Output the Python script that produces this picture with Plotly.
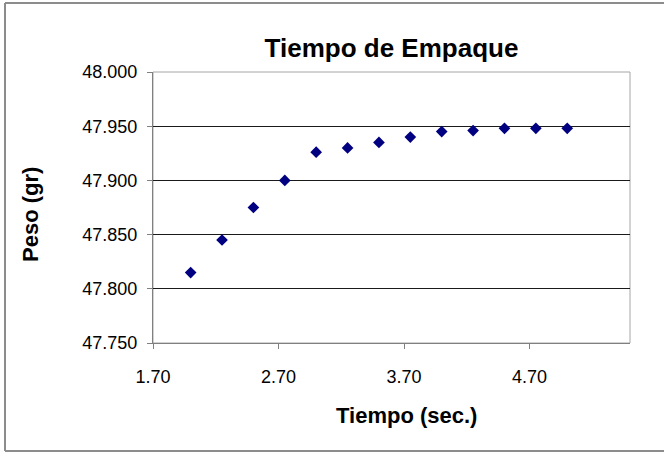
import plotly.graph_objects as go

tiempo = [2.00, 2.25, 2.50, 2.75, 3.00, 3.25, 3.50, 3.75, 4.00, 4.25, 4.50, 4.75, 5.00]
peso = [47.815, 47.845, 47.875, 47.900, 47.926, 47.930, 47.935, 47.940, 47.945, 47.946, 47.948, 47.948, 47.948]

titulo = "Tiempo de Empaque"
titulo_x = "Tiempo (sec.)"
titulo_y = "Peso (gr)"

FONT = "Liberation Sans, Arial, sans-serif"

fig = go.Figure()
fig.add_trace(go.Scatter(
    x=tiempo, y=peso, mode="markers",
    marker=dict(symbol="diamond", size=9, color="#000080"),
    showlegend=False,
))

L, R, T, B = 153, 34, 72, 109
W, H = 664, 452
pw, ph = W - L - R, H - T - B

bx0, bx1 = (5 - L) / pw, (W + 10 - L) / pw
by0, by1 = (343 - 451) / ph, (343 - 3) / ph
borde = dict(color="#8c8c8c", width=2)

fig.update_layout(
    width=W, height=H,
    margin=dict(l=L, r=R, t=T, b=B, pad=0),
    paper_bgcolor="white", plot_bgcolor="white",
    font=dict(family=FONT, size=18, color="black"),
    title=dict(text="<b>" + titulo + "</b>", x=0.5, xref="paper", xanchor="center",
               y=1 - 48 / H, yref="container", yanchor="middle",
               font=dict(size=26, family=FONT, color="black")),
    xaxis=dict(range=[1.7, 5.5], tick0=1.7, dtick=1, tickformat=".2f",
               showgrid=False, zeroline=False, showline=True, linecolor="#808080", linewidth=1,
               ticks="outside", ticklen=5, tickcolor="#808080", ticklabelstandoff=12,
               tickfont=dict(size=18, family=FONT, color="black")),
    yaxis=dict(range=[47.75, 48.0], tick0=47.75, dtick=0.05, tickformat=".3f",
               showgrid=True, gridcolor="#1a1a1a", gridwidth=1, zeroline=False,
               showline=True, linecolor="#808080", linewidth=1,
               ticks="outside", ticklen=5, tickcolor="#808080", ticklabelstandoff=6,
               tickfont=dict(size=18, family=FONT, color="black")),
    annotations=[
        dict(text="<b>" + titulo_x + "</b>", xref="paper", yref="paper",
             x=(406 - L) / pw, y=(343 - 415) / ph, xanchor="center", yanchor="middle",
             showarrow=False, font=dict(size=22, family=FONT, color="black")),
        dict(text="<b>" + titulo_y + "</b>", xref="paper", yref="paper",
             x=(30 - L) / pw, y=(343 - 215) / ph, xanchor="center", yanchor="middle",
             textangle=-90, showarrow=False, font=dict(size=22, family=FONT, color="black")),
    ],
    shapes=[
        dict(type="rect", xref="paper", yref="paper", x0=0, x1=1, y0=0, y1=1,
             line=dict(color="#a6a6a6", width=1), layer="below"),
        dict(type="line", xref="paper", yref="paper", x0=bx0, x1=bx0, y0=by0, y1=by1, line=borde),
        dict(type="line", xref="paper", yref="paper", x0=bx0, x1=bx1, y0=by1, y1=by1, line=borde),
        dict(type="line", xref="paper", yref="paper", x0=bx0, x1=bx1, y0=by0, y1=by0, line=borde),
    ],
)

fig.write_html("out.html", config={"displayModeBar": False},
               post_script="document.body.style.margin='0';"
                           "document.documentElement.style.overflow='hidden';"
                           "document.body.style.overflow='hidden';")
